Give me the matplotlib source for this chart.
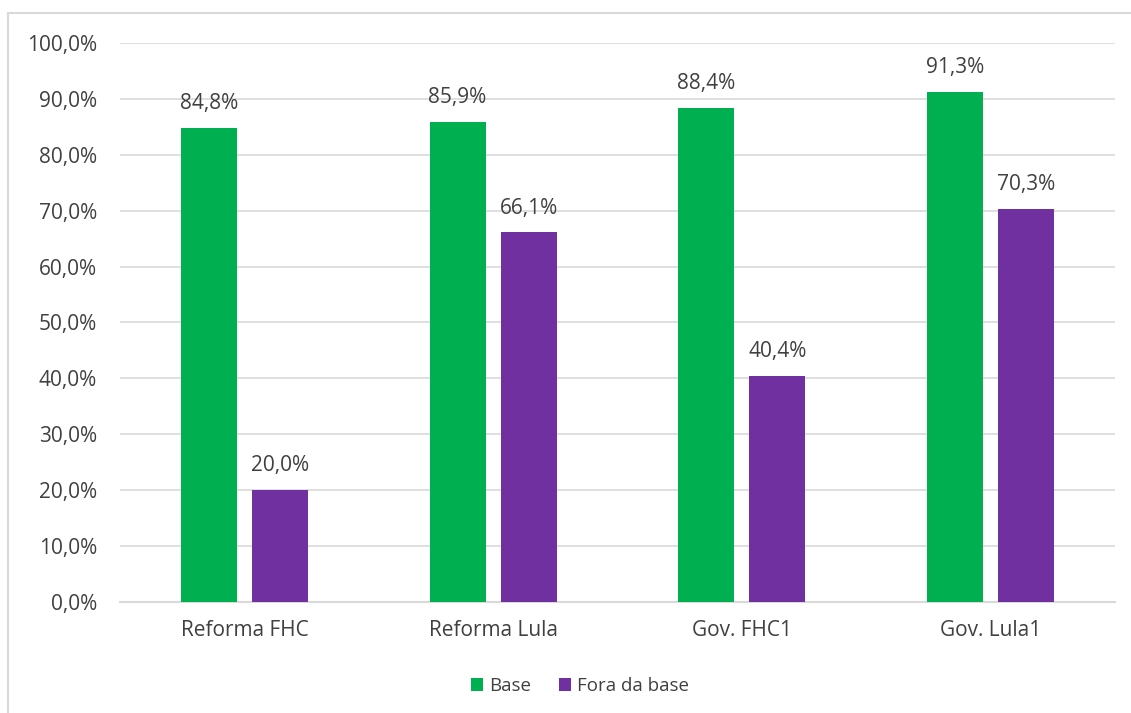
import matplotlib
matplotlib.use("Agg")
import matplotlib.pyplot as plt
from matplotlib.patches import Rectangle
import numpy as np

categories = ["Reforma FHC", "Reforma Lula", "Gov. FHC1", "Gov. Lula1"]
base = [84.8, 85.9, 88.4, 91.3]
fora_da_base = [20.0, 66.1, 40.4, 70.3]
series_names = ["Base", "Fora da base"]
yticks = [0, 10, 20, 30, 40, 50, 60, 70, 80, 90, 100]

GREEN = "#00B050"
PURPLE = "#7030A0"
TEXT = "#404040"
GRID = "#D9D9D9"

plt.rcParams["font.family"] = ["Open Sans", "DejaVu Sans"]

fig = plt.figure(figsize=(11.31, 7.13), dpi=100)
ax = fig.add_axes([0.1061, 0.1557, 0.8798, 0.7840])

# chart frame (top and left edges visible)
fig.patches.append(Rectangle((8 / 1131, -0.1), 1.2, 1 - 13 / 713 + 0.1,
                             transform=fig.transFigure, fill=False,
                             edgecolor=GRID, linewidth=1.5))

x = np.arange(len(categories))
w = 0.225
off = 0.143
b1 = ax.bar(x - off, base, w, color=GREEN, label=series_names[0], zorder=3)
b2 = ax.bar(x + off, fora_da_base, w, color=PURPLE, label=series_names[1], zorder=3)

def pct(v):
    return f"{v:.1f}%".replace(".", ",")

for bars, vals in ((b1, base), (b2, fora_da_base)):
    for r, v in zip(bars, vals):
        ax.annotate(pct(v), (r.get_x() + r.get_width() / 2, v),
                    xytext=(0, 10), textcoords="offset points",
                    ha="center", va="bottom", fontsize=15, color=TEXT)

ax.set_xlim(-0.5, len(categories) - 0.5)
ax.set_ylim(0, 100)
ax.set_yticks(yticks)
ax.set_yticklabels([pct(t) for t in yticks])
ax.set_xticks(x)
ax.set_xticklabels(categories)
ax.tick_params(axis="both", length=0, labelsize=15, labelcolor=TEXT)
ax.tick_params(axis="y", pad=16.5)
ax.tick_params(axis="x", pad=13)
ax.yaxis.grid(True, color=GRID, linewidth=1.2, zorder=0)
for s in ("top", "right", "left"):
    ax.spines[s].set_visible(False)
ax.spines["bottom"].set_color(GRID)
ax.spines["bottom"].set_linewidth(1.5)

leg = fig.legend(handles=[b1, b2], labels=series_names, loc="center",
                 bbox_to_anchor=(580 / 1131, 1 - 686 / 713), ncol=2,
                 frameon=False, fontsize=13.5, handlelength=0.65,
                 handleheight=0.65, handletextpad=0.3, columnspacing=1.5)
for t in leg.get_texts():
    t.set_color(TEXT)

fig.savefig("out.png", dpi=100)
